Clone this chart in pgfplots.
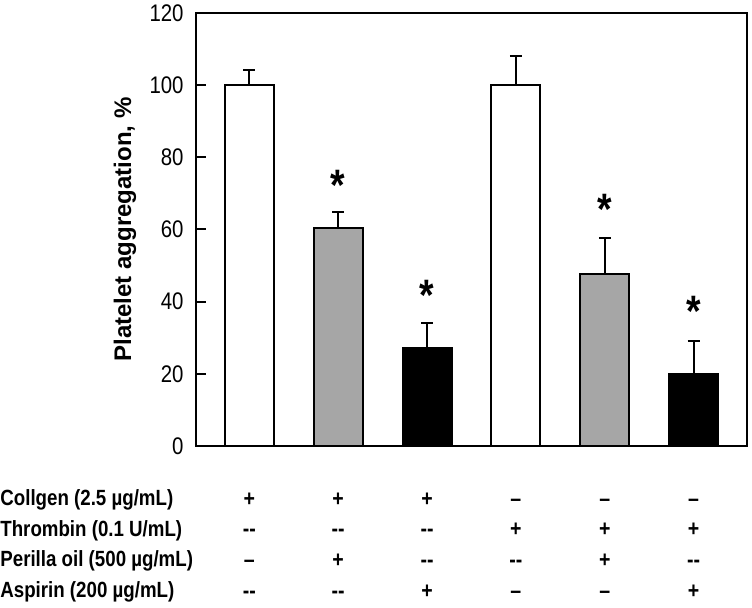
\documentclass[border=0pt]{standalone}
\usepackage{pgfplots}
\pgfplotsset{compat=1.18}
\usepackage{fontspec}
\setmainfont{Liberation Sans}[FakeStretch=0.85]
\newfontfamily\plainfont{Liberation Sans}
\definecolor{grayfill}{RGB}{166,166,166}
\begin{document}
\begin{tikzpicture}
\useasboundingbox (-98pt,-81pt) rectangle (278pt,223pt);
\begin{axis}[
  at={(0,0)}, anchor=south west,
  scale only axis, width=275.5pt, height=216.5pt,
  xmin=-0.6, xmax=5.6, ymin=0, ymax=120,
  ytick={0,20,...,120},
  xtick={0,...,5},
  xticklabels={
    {\strut+\\-{}-\\\textendash\\-{}-},
    {\strut+\\-{}-\\+\\-{}-},
    {\strut+\\-{}-\\-{}-\\+},
    {\strut\textendash\\+\\-{}-\\\textendash},
    {\strut\textendash\\+\\+\\\textendash},
    {\strut\textendash\\+\\-{}-\\+}},
  x tick style={draw=none},
  ytick pos=left,
  tick align=inside,
  major tick length=5pt,
  y tick style={line width=1pt, black},
  axis line style={line width=1pt},
  /pgf/number format/assume math mode=true,
  yticklabel style={font=\fontsize{12}{12}\selectfont, inner sep=0pt, xshift=-6pt},
  xticklabel style={font=\bfseries\fontsize{11.5}{15.33}\selectfont, align=center, anchor=north, inner sep=0pt, yshift=-19.1pt},
  every axis y label/.style={at={([xshift=-35.5pt]rel axis cs:0,0.5)}, rotate=90, anchor=center},
  ylabel={\plainfont\bfseries\fontsize{12}{12}\selectfont Platelet aggregation, \%},
  clip=false,
  error bars/error bar style={line width=1pt, black},
  error bars/error mark options={line width=1pt, black, mark size=3pt, rotate=90},
]
\addplot[ybar, bar width=24.5pt, draw=black, line width=1pt, fill=white,
  error bars/.cd, y dir=plus, y explicit]
  coordinates {(0,100) +- (0,4.2) (3,100) +- (0,8.0)};
\addplot[ybar, bar width=24.5pt, draw=black, line width=1pt, fill=grayfill,
  error bars/.cd, y dir=plus, y explicit]
  coordinates {(1,60.4) +- (0,4.5) (4,47.6) +- (0,10.1)};
\addplot[ybar, bar width=24.5pt, draw=black, line width=1pt, fill=black,
  error bars/.cd, y dir=plus, y explicit]
  coordinates {(2,27.2) +- (0,6.8) (5,20.0) +- (0,9.1)};
\addplot[draw=none, mark=none, nodes near coords={*},
  nodes near coords align={center},
  every node near coord/.style={font=\bfseries\fontsize{22}{22}\selectfont, anchor=center, text depth=0pt, yshift=-4.8pt, inner sep=0pt}]
  coordinates {(1,74.9) (2,44.3) (4,68.2) (5,40.1)};
\begin{scope}[font=\bfseries\fontsize{11}{11}\selectfont]
\node[anchor=base west, inner sep=0pt] at ([xshift=-98pt, yshift=-29.8pt]rel axis cs:0,0) {Collgen (2.5 µg/mL)};
\node[anchor=base west, inner sep=0pt] at ([xshift=-98pt, yshift=-45.13pt]rel axis cs:0,0) {Thrombin (0.1 U/mL)};
\node[anchor=base west, inner sep=0pt] at ([xshift=-98pt, yshift=-60.46pt]rel axis cs:0,0) {Perilla oil (500 µg/mL)};
\node[anchor=base west, inner sep=0pt] at ([xshift=-98pt, yshift=-75.79pt]rel axis cs:0,0) {Aspirin (200 µg/mL)};
\end{scope}
\end{axis}
\end{tikzpicture}
\end{document}
